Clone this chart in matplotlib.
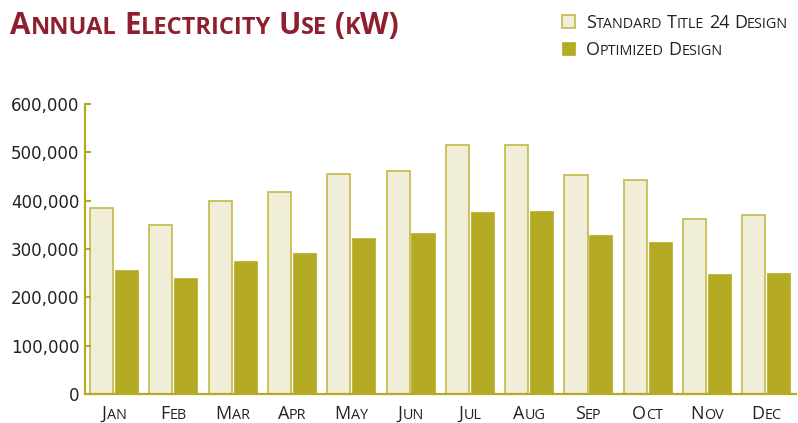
import matplotlib
matplotlib.use("Agg")
import matplotlib.pyplot as plt
from matplotlib.patches import Rectangle
from matplotlib.ticker import FuncFormatter
from matplotlib.transforms import IdentityTransform
import numpy as np

months = ["Jan", "Feb", "Mar", "Apr", "May", "Jun",
          "Jul", "Aug", "Sep", "Oct", "Nov", "Dec"]
standard = [384000, 349000, 399500, 418000, 456000, 461500,
            515000, 515000, 453000, 443000, 361000, 370500]
optimized = [257500, 239000, 275000, 292000, 323500, 333000,
             377500, 378000, 329000, 313500, 248500, 250500]
series_names = ["Standard Title 24 Design", "Optimized Design"]

OLIVE = "#b5aa23"
CREAM = "#f0edd8"
EDGE = "#c4ba45"
RED = "#8e1f2f"
TEXT = "#222222"
FONT = "Open Sans"

fig = plt.figure(figsize=(7.98, 4.23), dpi=100)
ax = fig.add_axes([0.1065, 0.0686, 0.891, 0.6856])

x = np.arange(len(months))
w = 0.39
ax.bar(x - 0.21, standard, w, color=CREAM, edgecolor=EDGE, linewidth=1.2)
ax.bar(x + 0.21, optimized, w, color=OLIVE, edgecolor=OLIVE, linewidth=0.5)

ax.set_xlim(-0.49, 11.5)
ax.set_ylim(0, 600000)
ax.set_yticks(range(0, 600001, 100000))
ax.yaxis.set_major_formatter(FuncFormatter(lambda v, p: f"{int(v):,}"))
ax.tick_params(axis="y", direction="in", length=4.5, width=1.5, color=OLIVE,
               pad=4, labelsize=12, labelcolor=TEXT)
for lab in ax.get_yticklabels():
    lab.set_fontfamily("DejaVu Sans")
ax.set_xticks([])
for s in ["top", "right"]:
    ax.spines[s].set_visible(False)
for s in ["left", "bottom"]:
    ax.spines[s].set_color(OLIVE)
    ax.spines[s].set_linewidth(1.6)


def small_caps(x_px, y_px, s, size, color, weight="normal", ha="left", ratio=0.8):
    # fake small caps: lowercase letters drawn as smaller capitals
    renderer = fig.canvas.get_renderer()
    pieces = []
    cur = ""
    small = None
    for ch in s:
        if ch == " ":
            if cur:
                pieces.append((cur, small))
            pieces.append((" ", None))
            cur, small = "", None
            continue
        sm = ch.islower()
        if cur and sm != small:
            pieces.append((cur, small))
            cur = ""
        cur += ch.upper()
        small = sm
    if cur:
        pieces.append((cur, small))

    items = []
    total = 0
    for txt, sm in pieces:
        if txt == " ":
            gap = size * 100 / 72 * 0.26
            items.append((None, gap))
            total += gap
            continue
        t = fig.text(0, 0, txt, fontsize=size * (ratio if sm else 1), color=color,
                     fontweight=weight, family=FONT, va="baseline",
                     transform=IdentityTransform())
        wd = t.get_window_extent(renderer).width
        items.append((t, wd))
        total += wd
    if ha == "center":
        pos = x_px - total / 2
    elif ha == "right":
        pos = x_px - total
    else:
        pos = x_px
    for t, wd in items:
        if t is not None:
            t.set_position((pos, y_px))
        pos += wd


H = fig.get_figheight() * fig.dpi

# title
small_caps(10, H - 34, "Annual Electricity Use (kW)", 21.3, RED, weight="bold")

# legend
fig.patches.append(Rectangle((562, H - 28), 13, 13, transform=IdentityTransform(),
                             facecolor=CREAM, edgecolor=EDGE, linewidth=1.2))
fig.patches.append(Rectangle((562, H - 55), 13, 13, transform=IdentityTransform(),
                             facecolor=OLIVE, edgecolor=OLIVE, linewidth=0.5))
small_caps(586, H - 28, series_names[0], 12.9, TEXT)
small_caps(586, H - 55, series_names[1], 12.9, TEXT)

# month labels
for i, m in enumerate(months):
    px = ax.transData.transform((i, 0))[0]
    small_caps(px, 4, m, 13, TEXT, ha="center")

fig.savefig("out.png", dpi=100)
